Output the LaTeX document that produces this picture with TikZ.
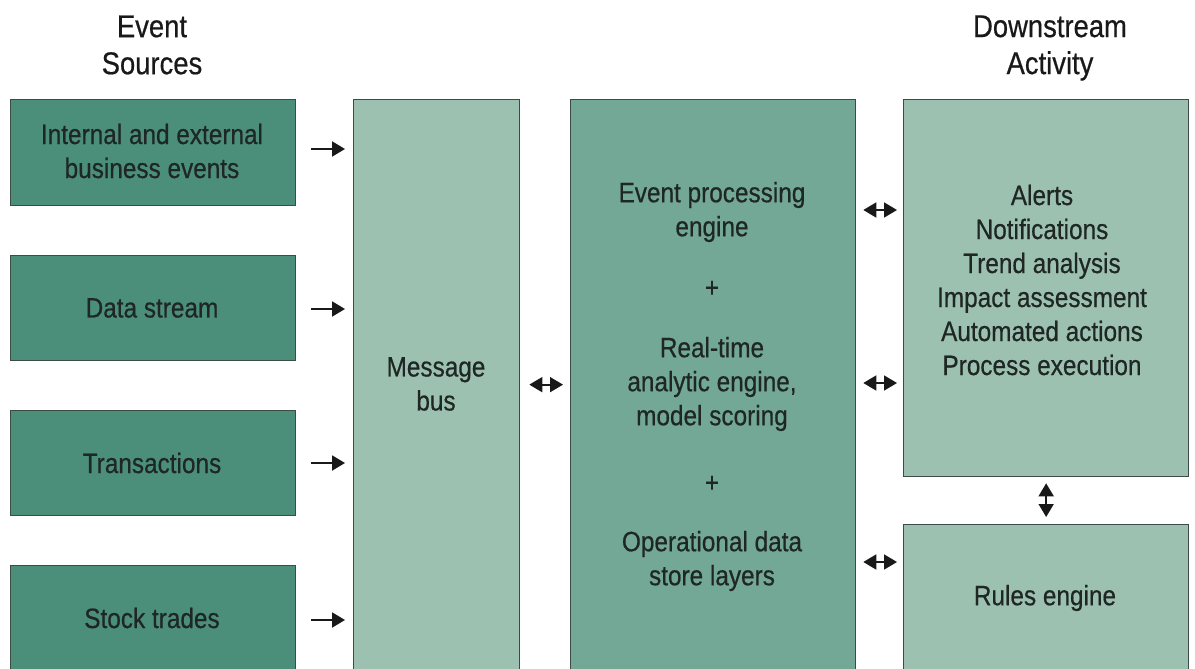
\documentclass[tikz,border=0pt]{standalone}
\usepackage{fontspec}
\setmainfont{Liberation Sans}[FakeStretch=0.87,FakeBold=0.5]
\usetikzlibrary{arrows.meta}
\definecolor{srcfill}{HTML}{4B8F7B}
\definecolor{busfill}{HTML}{9DC1B1}
\definecolor{corefill}{HTML}{72A895}
\definecolor{actfill}{HTML}{9DC1B1}
\definecolor{edgegray}{HTML}{3D4B46}
\definecolor{inkdark}{HTML}{1E2724}
\begin{document}
\begin{tikzpicture}[x=1pt,y=-1pt,
  box/.style={draw=edgegray, line width=1.3pt, inner sep=0pt, anchor=north west},
  txt/.style={align=center, inner sep=0pt, text=inkdark, font=\fontsize{28}{34}\selectfont},
  head/.style={align=center, inner sep=0pt, text=black!90, font=\fontsize{31.5}{37}\selectfont},
  one/.style={line width=1.9pt, draw=black!90, -{Triangle[length=13pt,width=15pt]}},
  two/.style={line width=1.7pt, draw=black!90, {Triangle[length=13pt,width=15pt]}-{Triangle[length=13pt,width=15pt]}}]
\useasboundingbox (0,0) rectangle (1195,669);

% column headers
\node[head] (hsrc) at (152,45) {Event\\Sources};
\node[head] (hdown) at (1050,48) {Downstream\\Activity};

% event sources
\node[box, fill=srcfill, minimum width=285pt, minimum height=106pt] (s1) at (10,99) {};
\node[box, fill=srcfill, minimum width=285pt, minimum height=105pt] (s2) at (10,255) {};
\node[box, fill=srcfill, minimum width=285pt, minimum height=105pt] (s3) at (10,410) {};
\node[box, fill=srcfill, minimum width=285pt, minimum height=104pt] (s4) at (10,565) {};

% message bus and processing core
\node[box, fill=busfill, minimum width=166pt, minimum height=570pt] (bus) at (353,99) {};
\node[box, fill=corefill, minimum width=285pt, minimum height=570pt] (core) at (570,99) {};

% downstream activity
\node[box, fill=actfill, minimum width=285pt, minimum height=377pt] (act) at (903,99) {};
\node[box, fill=actfill, minimum width=285pt, minimum height=145pt] (rules) at (903,524) {};

% texts
\node[txt] (t1) at (152,151) {Internal and external\\business events};
\node[txt] (t2) at (152,308) {Data stream};
\node[txt] (t3) at (152,463) {Transactions};
\node[txt] (t4) at (152,618) {Stock trades};
\node[txt] (tbus) at (436,384) {Message\\bus};
\node[txt] (tc1) at (712,212) {Event processing\\engine};
\node[txt] (tp1) at (712,289) {+};
\node[txt] (tc2) at (712,384) {Real-time\\analytic engine,\\model scoring};
\node[txt] (tp2) at (712,484) {+};
\node[txt] (tc3) at (712,561) {Operational data\\store layers};
\node[txt] (tact) at (1042,280) {Alerts\\Notifications\\Trend analysis\\Impact assessment\\Automated actions\\Process execution};
\node[txt] (trules) at (1045,598) {Rules engine};

% connectors
\coordinate (a1) at (0,149);
\coordinate (a2) at (0,309);
\coordinate (a3) at (0,463);
\coordinate (a4) at (0,620);
\draw[one, shorten <=15pt, shorten >=8pt] (s1.east |- a1) -- (bus.west |- a1);
\draw[one, shorten <=15pt, shorten >=8pt] (s2.east |- a2) -- (bus.west |- a2);
\draw[one, shorten <=15pt, shorten >=8pt] (s3.east |- a3) -- (bus.west |- a3);
\draw[one, shorten <=15pt, shorten >=8pt] (s4.east |- a4) -- (bus.west |- a4);
\draw[two, shorten <=9pt, shorten >=7pt] (bus.east) -- (core.west |- bus.east);
\coordinate (r1) at (0,210);
\coordinate (r2) at (0,383);
\coordinate (r3) at (0,562);
\draw[two, shorten <=7pt, shorten >=6pt] (core.east |- r1) -- (act.west |- r1);
\draw[two, shorten <=7pt, shorten >=6pt] (core.east |- r2) -- (act.west |- r2);
\draw[two, shorten <=7pt, shorten >=6pt] (core.east |- r3) -- (rules.west |- r3);
\draw[two, shorten <=6pt, shorten >=7pt] (act.south) -- (rules.north);
\end{tikzpicture}
\end{document}
